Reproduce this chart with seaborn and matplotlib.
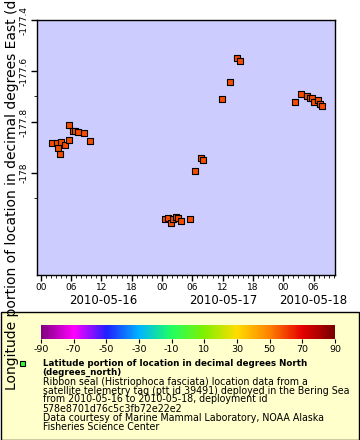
import pandas as pd
import numpy as np
import matplotlib
matplotlib.use("Agg")
import matplotlib.pyplot as plt
import matplotlib.dates as mdates
from matplotlib.colors import LinearSegmentedColormap, Normalize
from matplotlib.colorbar import ColorbarBase
from matplotlib.patches import Rectangle
import seaborn as sns

plt.rcParams["axes.unicode_minus"] = False

times = ["2010-05-16 02:11", "2010-05-16 03:10", "2010-05-16 03:22", "2010-05-16 03:46",
         "2010-05-16 03:58", "2010-05-16 04:49", "2010-05-16 05:32", "2010-05-16 05:36",
         "2010-05-16 06:20", "2010-05-16 06:44", "2010-05-16 07:19", "2010-05-16 08:31",
         "2010-05-16 09:41",
         "2010-05-17 00:39", "2010-05-17 01:08", "2010-05-17 01:43", "2010-05-17 02:07",
         "2010-05-17 02:43", "2010-05-17 03:13", "2010-05-17 03:42", "2010-05-17 05:29",
         "2010-05-17 06:32", "2010-05-17 07:40", "2010-05-17 08:03", "2010-05-17 11:49",
         "2010-05-17 13:31", "2010-05-17 14:47", "2010-05-17 15:22",
         "2010-05-18 02:22", "2010-05-18 03:26", "2010-05-18 04:38", "2010-05-18 05:17",
         "2010-05-18 05:41", "2010-05-18 06:01", "2010-05-18 06:49", "2010-05-18 07:12",
         "2010-05-18 07:36"]
lon = [-177.882, -177.882, -177.902, -177.924, -177.879, -177.890, -177.811, -177.870,
       -177.835, -177.835, -177.839, -177.843, -177.874,
       -178.181, -178.178, -178.196, -178.181, -178.174, -178.175, -178.189, -178.181,
       -177.992, -177.941, -177.949, -177.709, -177.642, -177.548, -177.562,
       -177.721, -177.690, -177.697, -177.704, -177.705, -177.721, -177.713, -177.730,
       -177.737]
lat = [58.0] * len(lon)  # colour looks the same for every fix

cbar_ticks = [-90, -70, -50, -30, -10, 10, 30, 50, 70, 90]
ytick_vals = [-177.4, -177.6, -177.8, -178.0]
ytick_labels = ["-177.4", "-177.6", "-177.8", "-178"]

legend_lines = [
    ("Latitude portion of location in decimal degrees North", "bold"),
    ("(degrees_north)", "bold"),
    ("Ribbon seal (Histriophoca fasciata) location data from a", "normal"),
    ("satellite telemetry tag (ptt id 39491) deployed in the Bering Sea", "normal"),
    ("from 2010-05-16 to 2010-05-18, deployment id", "normal"),
    ("578e8701d76c5c3fb72e22e2", "normal"),
    ("Data courtesy of Marine Mammal Laboratory, NOAA Alaska", "normal"),
    ("Fisheries Science Center", "normal"),
]

df = pd.DataFrame({"time": pd.to_datetime(times), "lon": lon, "lat": lat})

# rainbow palette like the ERDDAP one
rainbow = LinearSegmentedColormap.from_list("rainbow_erddap", [
    "#800080", "#ff00ff", "#2020ff", "#00b4ff", "#20ff60",
    "#80f000", "#ffdc00", "#ff8200", "#e60000", "#780000"])
norm = Normalize(-90, 90)

W, H = 360, 440
fig = plt.figure(figsize=(3.6, 4.4), dpi=100)

ax = fig.add_axes([36.7 / W, 1 - 275 / H, (335 - 36.7) / W, (275 - 20) / H])
ax.set_facecolor("#ccccff")
sns.scatterplot(data=df, x="time", y="lon", ax=ax, marker="s", s=22,
                color=rainbow(norm(df.lat.iloc[0])), edgecolor="black",
                linewidth=0.8, legend=False, zorder=3)

ax.set_xlim(pd.Timestamp("2010-05-15 23:12"), pd.Timestamp("2010-05-18 10:14"))
ax.set_ylim(-178.4, -177.4)
ax.xaxis.set_major_locator(mdates.HourLocator(byhour=[0, 6, 12, 18]))
ax.xaxis.set_minor_locator(mdates.HourLocator())
ax.xaxis.set_major_formatter(mdates.DateFormatter("%H"))
ax.set_yticks(ytick_vals)
ax.set_yticklabels(ytick_labels, rotation=90, va="center")
ax.set_yticks([-177.7, -178.1], minor=True)
ax.tick_params(which="major", length=4, width=1, labelsize=6.5, pad=2)
ax.tick_params(which="minor", length=2, width=0.6)
ax.set_xlabel("")
ax.set_ylabel("")
for sp in ax.spines.values():
    sp.set_linewidth(1)

for label, xpx in [("2010-05-16", 103), ("2010-05-17", 223)]:
    fig.text(xpx / W, 1 - 301 / H, label, ha="center", va="center", fontsize=8.5)
fig.text(347 / W, 1 - 301 / H, "2010-05-18", ha="right", va="center", fontsize=8.5)

fig.text(12 / W, 1 - 390 / H,
         "Longitude portion of location in decimal degrees East (degrees_east)",
         rotation=90, ha="center", va="bottom", fontsize=10, zorder=5)

# legend area
fig.add_artist(Rectangle((0.5 / W, 0.5 / H), 358.5 / W, (440 - 312) / H,
                         transform=fig.transFigure, facecolor="#ffffcc",
                         edgecolor="black", linewidth=1, zorder=-1))

cax = fig.add_axes([41 / W, 1 - 339 / H, 294 / W, 14 / H])
cb = ColorbarBase(cax, cmap=rainbow, norm=norm, orientation="horizontal",
                  ticks=cbar_ticks)
cb.outline.set_visible(False)
cax.tick_params(length=3, width=0.8, labelsize=6.8, pad=1.5)

fig.add_artist(Rectangle((19.5 / W, 1 - 365.5 / H), 5 / W, 5 / H,
                         transform=fig.transFigure, facecolor="#33ff33",
                         edgecolor="black", linewidth=0.8))

ys = [363.3, 372, 381.7, 390.7, 399.3, 408.7, 417.7, 426.7]
for (txt, weight), ypx in zip(legend_lines, ys):
    fig.text(42.7 / W, 1 - ypx / H, txt, ha="left", va="center",
             fontsize=6.3 if weight == "bold" else 6.85, fontweight=weight)

fig.savefig("out.png", dpi=100)
